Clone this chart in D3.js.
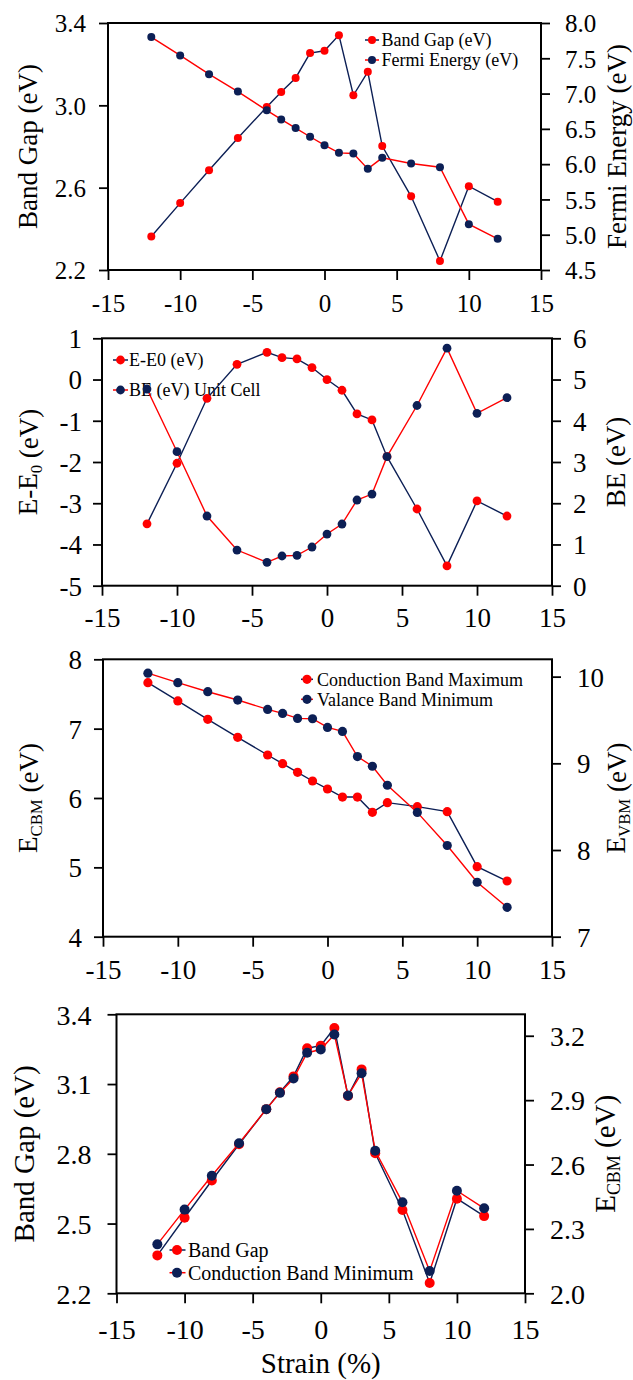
<!DOCTYPE html>
<html>
<head>
<meta charset="utf-8">
<script src="https://cdn.jsdelivr.net/npm/d3@7/dist/d3.min.js"></script>
<style>
  html, body { margin: 0; padding: 0; background: #fff; }
  svg { display: block; }
</style>
</head>
<body>
<svg id="chart" width="633" height="1380"></svg>
<script>
// ---------------- DATA ----------------
const strain = [-12, -10, -8, -6, -4, -3, -2, -1, 0, 1, 2, 3, 4, 6, 8, 10, 12];
const xTicks = [-15, -10, -5, 0, 5, 10, 15];

// Panel 1
const bandGap = [2.363, 2.525, 2.685, 2.841, 2.992, 3.065, 3.133, 3.254, 3.265, 3.341, 3.049, 3.163, 2.802, 2.558, 2.244, 2.607, 2.532];
const fermiEnergy = [7.80, 7.54, 7.275, 7.028, 6.762, 6.634, 6.511, 6.388, 6.269, 6.16, 6.15, 5.933, 6.089, 6.009, 5.956, 5.15, 4.942];
const p1LeftTicks = [2.2, 2.6, 3.0, 3.4];
const p1RightTicks = [4.5, 5.0, 5.5, 6.0, 6.5, 7.0, 7.5, 8.0];

// Panel 2
const eMinusE0 = [-3.50, -2.03, -0.455, 0.37, 0.66, 0.53, 0.50, 0.29, 0.0, -0.26, -0.835, -0.98, -1.87, -3.14, -4.52, -2.945, -3.31];
const bindingEnergy = [4.77, 3.25, 1.69, 0.865, 0.566, 0.72, 0.736, 0.938, 1.253, 1.496, 2.078, 2.223, 3.13, 4.37, 5.76, 4.18, 4.56];
const p2LeftTicks = [-5, -4, -3, -2, -1, 0, 1];
const p2RightTicks = [0, 1, 2, 3, 4, 5, 6];

// Panel 3
const cbMaximum = [7.663, 7.40, 7.135, 6.875, 6.62, 6.495, 6.37, 6.245, 6.13, 6.014, 6.014, 5.793, 5.933, 5.875, 5.803, 5.01, 4.803];
const vbMinimum = [10.04, 9.93, 9.826, 9.73, 9.622, 9.576, 9.518, 9.514, 9.414, 9.368, 9.078, 8.966, 8.747, 8.434, 8.052, 7.628, 7.339];
const p3LeftTicks = [4, 5, 6, 7, 8];
const p3RightTicks = [7, 8, 9, 10];

// Panel 4
const cbMinimum = [2.228, 2.39, 2.548, 2.699, 2.858, 2.934, 3.001, 3.121, 3.136, 3.206, 2.922, 3.025, 2.664, 2.424, 2.104, 2.478, 2.396];
const p4LeftTicks = [2.2, 2.5, 2.8, 3.1, 3.4];
const p4RightTicks = [2.0, 2.3, 2.6, 2.9, 3.2];

// ---------------- STYLE / LAYOUT ----------------
const RED = "#ff0000";
const NAVY = "#0c1f55";
const FONT = "'Liberation Serif', 'Times New Roman', Times, 'DejaVu Serif', serif";
const svg = d3.select("#chart");

const panels = [
  {
    left: 108, right: 541, top: 23, bottom: 270,
    xDomain: [-15, 15], yL: [2.2, 3.4], yR: [4.5, 8.0],
    lTicks: p1LeftTicks, rTicks: p1RightTicks, fmtL: d3.format(".1f"), fmtR: d3.format(".1f"),
    tickFont: 25, titleFont: 27, legendFont: 18, r: 4.0,
    xLabelDy: 33, lGap: 22, rGap: 24,
    lTitle: [{t: "Band Gap (eV)"}], rTitle: [{t: "Fermi Energy (eV)"}],
    lTitleX: 28, rTitleX: 617,
    series: [
      {vals: bandGap, axis: "L", marker: RED, line: NAVY, name: "Band Gap (eV)"},
      {vals: fermiEnergy, axis: "R", marker: NAVY, line: RED, name: "Fermi Energy (eV)"}
    ],
    legend: {x1: 365, x2: 379, mx: 372, tx: 381.5, rows: [40, 60]}
  },
  {
    left: 102, right: 552, top: 338.3, bottom: 585.7,
    xDomain: [-15, 15], yL: [-5, 1], yR: [0, 6],
    lTicks: p2LeftTicks, rTicks: p2RightTicks, fmtL: d => String(d), fmtR: d => String(d),
    tickFont: 27, titleFont: 27, legendFont: 18, r: 4.4,
    xLabelDy: 32, lGap: 20, rGap: 21,
    lTitle: [{t: "E-E"}, {t: "0", sub: true}, {t: " (eV)"}], rTitle: [{t: "BE (eV)"}],
    lTitleX: 28, rTitleX: 616,
    series: [
      {vals: eMinusE0, axis: "L", marker: RED, line: NAVY, name: "E-E0 (eV)"},
      {vals: bindingEnergy, axis: "R", marker: NAVY, line: RED, name: "BE (eV) Unit Cell"}
    ],
    legend: {x1: 113, x2: 128, mx: 120.5, tx: 129, rows: [360, 390]}
  },
  {
    left: 103, right: 552, top: 659.3, bottom: 936.7,
    xDomain: [-15, 15], yL: [4, 8], yR: [7, 10.2],
    lTicks: p3LeftTicks, rTicks: p3RightTicks, fmtL: d => String(d), fmtR: d => String(d),
    tickFont: 27, titleFont: 27, legendFont: 18, r: 4.6,
    xLabelDy: 33, lGap: 21, rGap: 25,
    lTitle: [{t: "E"}, {t: "CBM", sub: true}, {t: " (eV)"}], rTitle: [{t: "E"}, {t: "VBM", sub: true}, {t: " (eV)"}],
    lTitleX: 28, rTitleX: 616,
    series: [
      {vals: cbMaximum, axis: "L", marker: RED, line: NAVY, name: "Conduction Band Maximum"},
      {vals: vbMinimum, axis: "R", marker: NAVY, line: RED, name: "Valance Band Minimum"}
    ],
    legend: {x1: 301, x2: 313, mx: 307, tx: 317, rows: [679.3, 699.3]}
  },
  {
    left: 116.5, right: 525, top: 1014.3, bottom: 1293.3,
    xDomain: [-15, 15], yL: [2.2, 3.4], yR: [2.0, 3.3],
    lTicks: p4LeftTicks, rTicks: p4RightTicks, fmtL: d3.format(".1f"), fmtR: d3.format(".1f"),
    tickFont: 28, titleFont: 29, legendFont: 20, r: 5.0,
    xLabelDy: 36, lGap: 25, rGap: 25,
    lTitle: [{t: "Band Gap (eV)"}], rTitle: [{t: "E"}, {t: "CBM", sub: true}, {t: " (eV)"}],
    lTitleX: 24, rTitleX: 605,
    xTitle: "Strain (%)", xTitleY: 1363,
    series: [
      {vals: bandGap, axis: "L", marker: RED, line: NAVY, name: "Band Gap"},
      {vals: cbMinimum, axis: "R", marker: NAVY, line: RED, name: "Conduction Band Minimum"}
    ],
    legend: {x1: 169.5, x2: 185.5, mx: 177, tx: 188, rows: [1250, 1272.7]}
  }
];

function styleText(sel, size) {
  sel.style("font-family", FONT).style("font-size", size + "px").style("fill", "#000");
}

function addTitle(sel, parts) {
  parts.forEach((p, i) => {
    if (p.sub) {
      sel.append("tspan").style("font-size", "0.62em").attr("dy", "0.28em").text(p.t);
    } else {
      const ts = sel.append("tspan").text(p.t);
      if (i > 0) ts.attr("dy", "-0.17em");
    }
  });
}

function drawPanel(p) {
  const g = svg.append("g");
  const x = d3.scaleLinear().domain(p.xDomain).range([p.left, p.right]);
  const yL = d3.scaleLinear().domain(p.yL).range([p.bottom, p.top]);
  const yR = d3.scaleLinear().domain(p.yR).range([p.bottom, p.top]);

  // bottom axis
  const ax = g.append("g").attr("transform", `translate(0,${p.bottom})`)
    .call(d3.axisBottom(x).tickValues(xTicks).tickSize(10).tickSizeOuter(0).tickFormat(d => String(d)));
  ax.select(".domain").remove();
  ax.selectAll("text").attr("y", p.xLabelDy).attr("dy", "0.35em").call(styleText, p.tickFont);

  // left axis
  const al = g.append("g").attr("transform", `translate(${p.left},0)`)
    .call(d3.axisLeft(yL).tickValues(p.lTicks).tickSize(9).tickSizeOuter(0).tickFormat(p.fmtL));
  al.select(".domain").remove();
  al.selectAll("text").attr("x", -p.lGap).attr("dy", "0.35em").call(styleText, p.tickFont);

  // right axis
  const ar = g.append("g").attr("transform", `translate(${p.right},0)`)
    .call(d3.axisRight(yR).tickValues(p.rTicks).tickSize(9).tickSizeOuter(0).tickFormat(p.fmtR));
  ar.select(".domain").remove();
  ar.selectAll("text").attr("x", p.rGap).attr("dy", "0.35em").call(styleText, p.tickFont);

  [ax, al, ar].forEach(a => a.selectAll("line").attr("stroke", "#000").attr("stroke-width", 1.8));

  // frame
  g.append("rect").attr("x", p.left).attr("y", p.top)
    .attr("width", p.right - p.left).attr("height", p.bottom - p.top)
    .attr("fill", "none").attr("stroke", "#000").attr("stroke-width", 2);

  // axis titles
  const cy = (p.top + p.bottom) / 2;
  const lt = g.append("text").attr("transform", `translate(${p.lTitleX},${cy}) rotate(-90)`)
    .attr("text-anchor", "middle").attr("dy", "0.35em").call(styleText, p.titleFont);
  addTitle(lt, p.lTitle);
  const rt = g.append("text").attr("transform", `translate(${p.rTitleX},${cy}) rotate(-90)`)
    .attr("text-anchor", "middle").attr("dy", "0.35em").call(styleText, p.titleFont);
  addTitle(rt, p.rTitle);
  if (p.xTitle) {
    g.append("text").attr("x", (p.left + p.right) / 2).attr("y", p.xTitleY).attr("dy", "0.35em")
      .attr("text-anchor", "middle").call(styleText, p.titleFont).text(p.xTitle);
  }

  // legend
  p.series.forEach((s, i) => {
    const ry = p.legend.rows[i];
    g.append("line").attr("x1", p.legend.x1).attr("x2", p.legend.x2).attr("y1", ry).attr("y2", ry)
      .attr("stroke", s.line).attr("stroke-width", 1.5);
    g.append("circle").attr("cx", p.legend.mx).attr("cy", ry).attr("r", p.r).attr("fill", s.marker);
    g.append("text").attr("x", p.legend.tx).attr("y", ry).attr("dy", "0.35em")
      .call(styleText, p.legendFont).text(s.name);
  });

  // lines
  p.series.forEach(s => {
    const ys = s.axis === "L" ? yL : yR;
    const line = d3.line().x((d, i) => x(strain[i])).y(d => ys(d));
    g.append("path").datum(s.vals).attr("d", line).attr("fill", "none")
      .attr("stroke", s.line).attr("stroke-width", 1.4);
  });
  // markers
  p.series.forEach(s => {
    const ys = s.axis === "L" ? yL : yR;
    g.append("g").selectAll("circle").data(s.vals).join("circle")
      .attr("cx", (d, i) => x(strain[i])).attr("cy", d => ys(d)).attr("r", p.r)
      .attr("fill", s.marker);
  });
}

panels.forEach(drawPanel);
</script>
</body>
</html>
